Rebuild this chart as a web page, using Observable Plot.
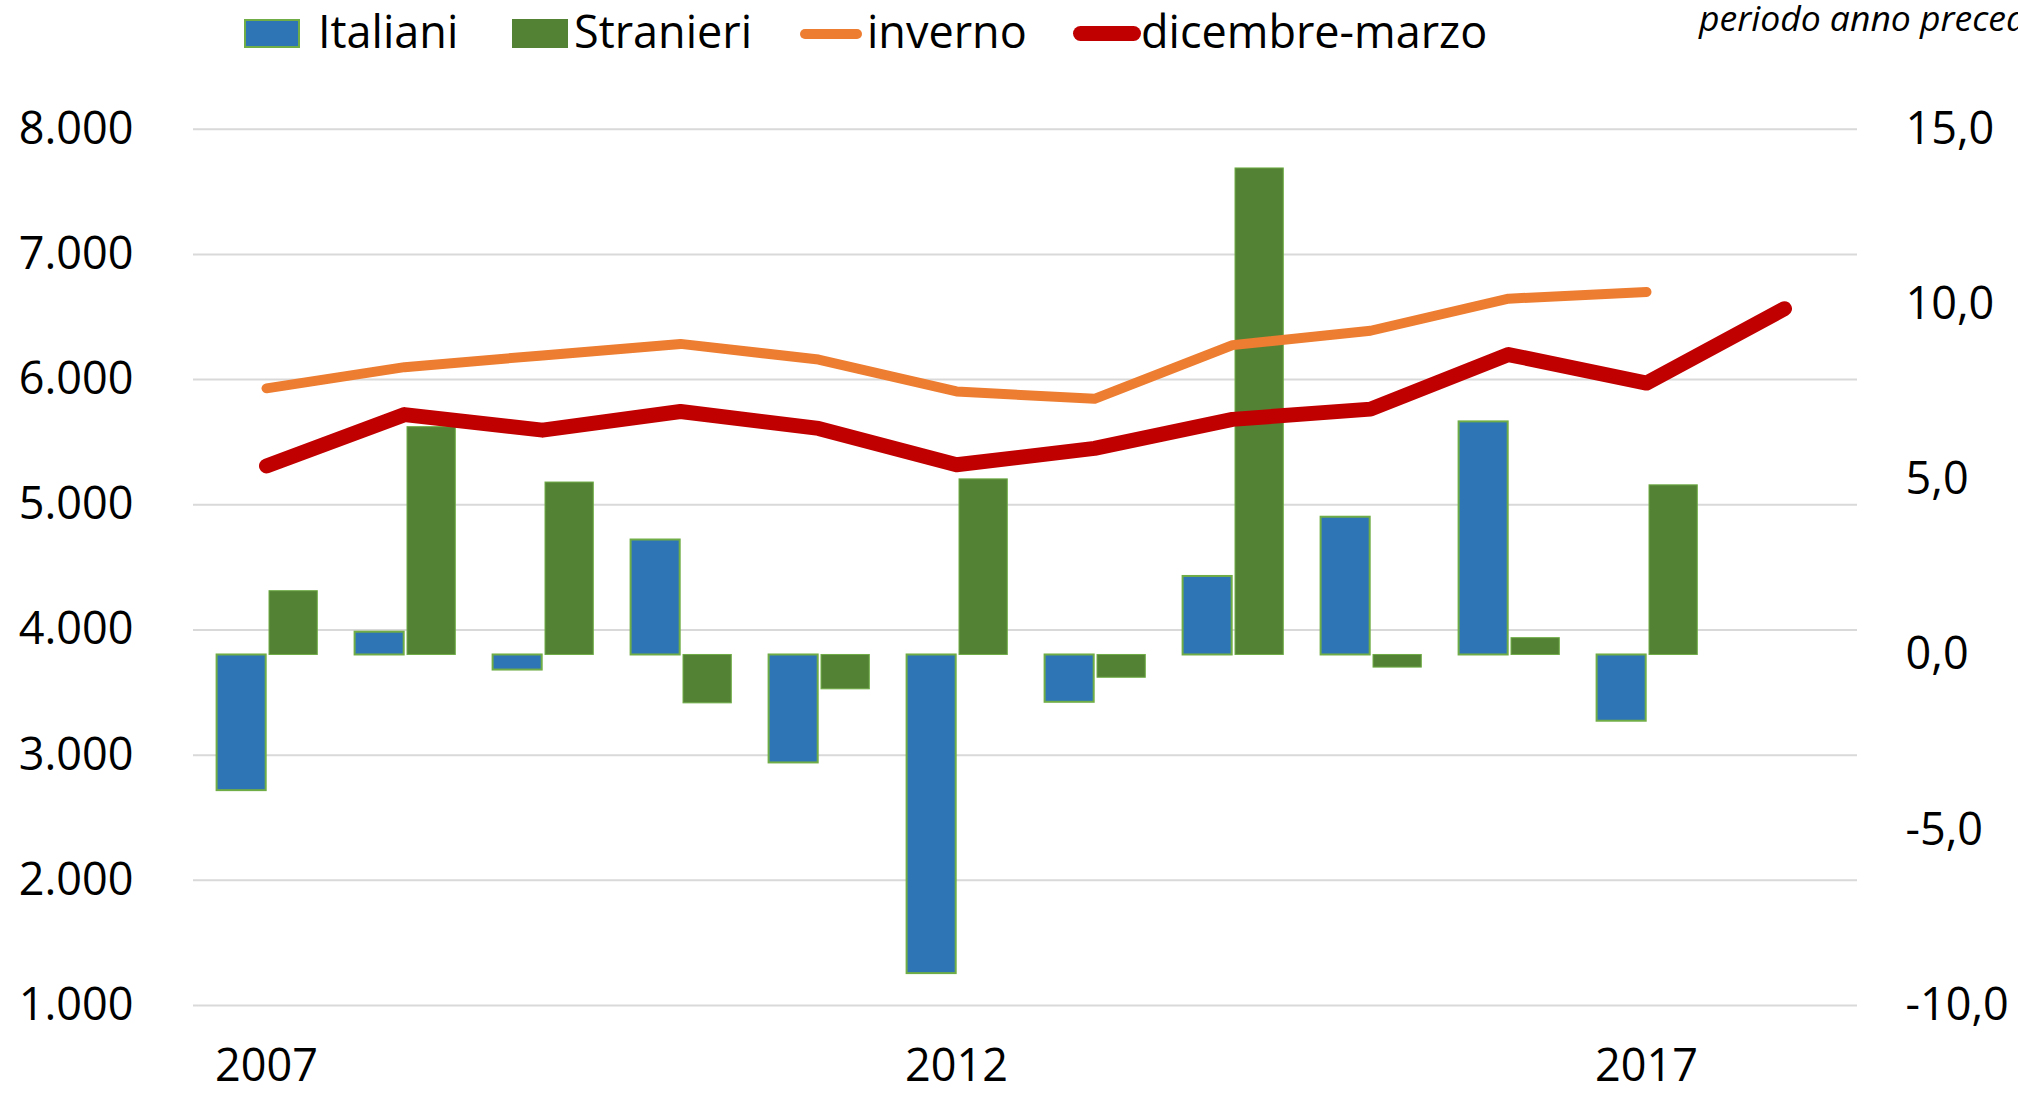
<!DOCTYPE html>
<html><head><meta charset="utf-8">
<script src="https://cdn.jsdelivr.net/npm/d3@7"></script>
<script src="https://cdn.jsdelivr.net/npm/@observablehq/plot@0.6"></script>
<style>
body{margin:0;width:2018px;height:1093px;overflow:hidden;background:#fff;font-family:"Open Sans",sans-serif;position:relative;color:#000}
#legend{position:relative;height:70px;width:2018px;overflow:hidden}
.sw{position:absolute;box-sizing:border-box}
.lt{position:absolute;font-size:45px;line-height:1;white-space:nowrap}
#note{position:absolute;left:1699px;top:-7px;font-size:35.5px;font-style:italic;white-space:nowrap}
#chart svg{display:block}
</style></head><body>
<div id="legend"></div>
<div id="chart"></div>
<script>
const years = [2007,2008,2009,2010,2011,2012,2013,2014,2015,2016,2017,2018];
// variazioni % (asse destro)
const italiani  = [-3.87,0.65,-0.43,3.28,-3.08,-9.09,-1.35,2.24,3.93,6.65,-1.89,null];
const stranieri = [1.82,6.50,4.92,-1.38,-0.98,5.01,-0.65,13.88,-0.36,0.48,4.84,null];
// livelli (asse sinistro)
const inverno       = [5930,6099,6193,6285,6160,5905,5846,6275,6390,6646,6700,null];
const dicembreMarzo = [5310,5720,5596,5745,5610,5320,5450,5682,5764,6200,5972,6566];
const leftTicks  = [1000,2000,3000,4000,5000,6000,7000,8000];
const rightTicks = [-10,-5,0,5,10,15];
const xTicks = [2007,2012,2017];
const colors = {"Italiani":"#2E75B6","Stranieri":"#548235","inverno":"#ED7D31","dicembre-marzo":"#C00000"};

// right axis (%) mapped onto left scale: 15 -> 8000, -10 -> 1000
const toLeft = p => 3800 + 280 * p;
const fromLeft = v => (v - 3800) / 280;
const loc = d3.formatLocale({decimal: ",", thousands: ".", grouping: [3], currency: ["€", ""], minus: "-"});
const fmtLeft = loc.format(",");
const fmtRight = loc.format(".1f");

const rows = (vals) => years.map((year, i) => ({year, v: vals[i]})).filter(d => d.v != null);

// legend
const legend = document.getElementById("legend");
const legendItems = [
  {name: "Italiani", type: "box", sx: 244, sw: 56, tx: 318},
  {name: "Stranieri", type: "box", sx: 512, sw: 56, tx: 574},
  {name: "inverno", type: "line", sx: 800, sw: 62, tx: 867, lw: 10},
  {name: "dicembre-marzo", type: "line", sx: 1073, sw: 68, tx: 1141, lw: 15}
];
legendItems.forEach(it => {
  const s = document.createElement("div");
  s.className = "sw";
  s.style.left = it.sx + "px";
  s.style.width = it.sw + "px";
  if (it.type === "box") {
    s.style.top = "19px"; s.style.height = "29px";
    s.style.background = colors[it.name];
    if (it.name === "Italiani") s.style.border = "2px solid #70AD47";
  } else {
    s.style.top = (33.5 - it.lw / 2) + "px"; s.style.height = it.lw + "px";
    s.style.background = colors[it.name];
    s.style.borderRadius = it.lw / 2 + "px";
  }
  legend.appendChild(s);
  const t = document.createElement("div");
  t.className = "lt";
  t.style.left = it.tx + "px";
  t.style.top = "8px";
  t.textContent = it.name;
  legend.appendChild(t);
});
const note = document.createElement("div");
note.id = "note";
note.textContent = "periodo anno precedente";
legend.appendChild(note);

const chart = Plot.plot({
  width: 2018,
  height: 1023,
  marginLeft: 193,
  marginRight: 161,
  marginTop: 58.7,
  marginBottom: 88,
  style: {fontFamily: "Open Sans, sans-serif", fontSize: "45px", color: "#000", background: "transparent", overflow: "visible"},
  x: {type: "band", domain: years, padding: 0, label: null},
  y: {domain: [1000, 8000], label: null},
  marks: [
    Plot.gridY({ticks: leftTicks, stroke: "#d9d9d9", strokeOpacity: 1, strokeWidth: 2}),
    Plot.barY(rows(italiani), {x: "year", y1: d => toLeft(0), y2: d => toLeft(d.v), fill: colors["Italiani"], stroke: "#70AD47", strokeWidth: 2, insetLeft: 19.6, insetRight: 69.3}),
    Plot.barY(rows(stranieri), {x: "year", y1: d => toLeft(0), y2: d => toLeft(d.v), fill: colors["Stranieri"], stroke: "#70AD47", strokeWidth: 1, insetLeft: 72, insetRight: 17.7}),
    Plot.lineY(rows(inverno), {x: "year", y: "v", stroke: colors["inverno"], strokeWidth: 10, strokeLinecap: "round", strokeLinejoin: "round"}),
    Plot.lineY(rows(dicembreMarzo), {x: "year", y: "v", stroke: colors["dicembre-marzo"], strokeWidth: 15, strokeLinecap: "round", strokeLinejoin: "round"}),
    Plot.axisY({anchor: "left", ticks: leftTicks, tickFormat: fmtLeft, tickSize: 0, tickPadding: 60, fontSize: 45, label: null}),
    Plot.axisY({anchor: "right", ticks: rightTicks.map(toLeft), tickFormat: v => fmtRight(fromLeft(v)), tickSize: 0, tickPadding: 48, fontSize: 45, textAnchor: "start", label: null}),
    Plot.axisX({ticks: xTicks, tickFormat: d => String(d), tickSize: 0, tickPadding: 44, fontSize: 45, label: null})
  ]
});
document.getElementById("chart").appendChild(chart);
</script>
</body></html>
